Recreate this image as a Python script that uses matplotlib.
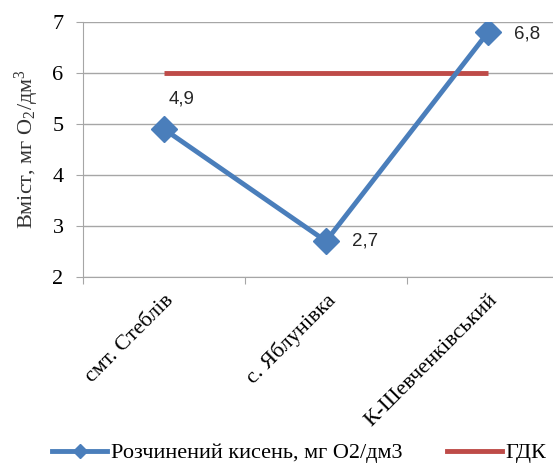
import matplotlib.pyplot as plt
from matplotlib.lines import Line2D

plt.rcParams['mathtext.fontset'] = 'custom'
plt.rcParams['mathtext.rm'] = 'Liberation Serif'
plt.rcParams['mathtext.it'] = 'Liberation Serif:italic'

sites = ['смт. Стеблів', 'с. Яблунівка', 'К-Шевченківський']
oxygen = [4.9, 2.7, 6.8]
gdk = [6, 6, 6]
labels = ['4,9', '2,7', '6,8']

blue = '#4A7EBB'
red = '#BE4B48'
grid = '#A6A6A6'

fig = plt.figure(figsize=(5.53, 4.70), dpi=100)
ax = fig.add_axes([0.150, 0.411, 0.879, 0.542])

x = [0.5, 1.5, 2.5]
ax.plot(x, gdk, color=red, lw=3.5, solid_capstyle='butt', zorder=2)
ax.plot(x, oxygen, color=blue, lw=3.5, marker='D', ms=13, zorder=3)

# label positions relative to the points (points)
offsets = [(3, 22), (19, 0), (19, -1)]
for xi, yi, t, (dx, dy) in zip(x, oxygen, labels, offsets):
    ax.annotate(t, (xi, yi), xytext=(dx, dy), textcoords='offset points',
                fontsize=13.5, family='Liberation Sans', color='#262626',
                va='center', ha='left')

ax.set_xlim(0, 3)
ax.set_ylim(2, 7)
ax.set_yticks(range(2, 8))
ax.set_xticks([0, 1, 2, 3])
ax.set_xticklabels([])
ax.set_xticks(x, minor=True)
ax.set_xticklabels(sites, minor=True, rotation=45, ha='right', va='top',
                   rotation_mode='anchor', family='Liberation Serif', fontsize=16)
ax.tick_params(axis='x', which='minor', length=0, pad=10)
ax.tick_params(axis='x', which='major', length=5, color=grid, direction='out')
ax.tick_params(axis='y', length=5, color=grid, direction='out', labelsize=16, pad=9)
for lab in ax.get_yticklabels():
    lab.set_family('Liberation Serif')

ax.grid(axis='y', color=grid, lw=1)
ax.set_axisbelow(True)
for s in ['top', 'right']:
    ax.spines[s].set_visible(False)
for s in ['left', 'bottom']:
    ax.spines[s].set_color(grid)

ax.set_ylabel('Вміст, мг О$_2$/дм$^3$', family='Liberation Serif', fontsize=16,
              color='#333333', labelpad=8)

handles = [Line2D([], [], color=blue, lw=3.5, marker='D', ms=7),
           Line2D([], [], color=red, lw=3.5)]
fig.legend(handles, ['Розчинений кисень, мг О2/дм3', 'ГДК'], loc='center',
           bbox_to_anchor=(0.541, 0.036), ncol=2, frameon=False,
           prop={'family': 'Liberation Serif', 'size': 16}, handlelength=2.5,
           handletextpad=0.15, columnspacing=2.0)

fig.savefig('out.png', dpi=100)
